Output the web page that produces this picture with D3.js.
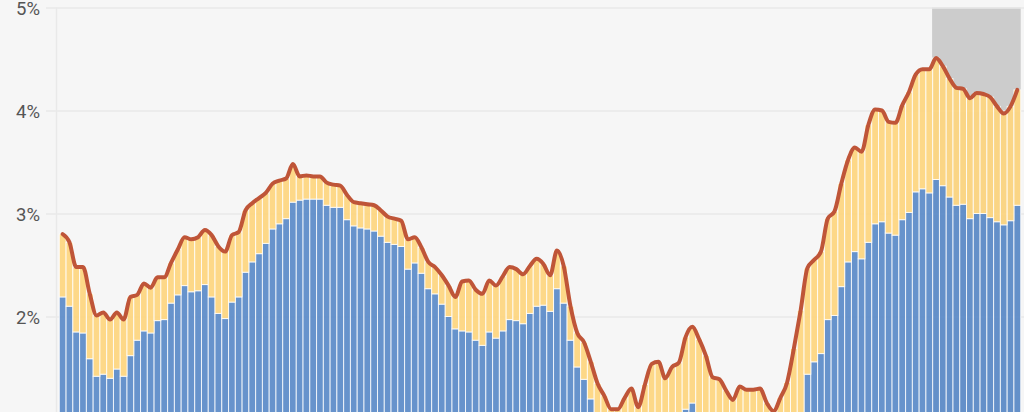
<!DOCTYPE html>
<html>
<head>
<meta charset="utf-8">
<script src="https://cdn.jsdelivr.net/npm/d3@7"></script>
<style>
  html, body { margin: 0; padding: 0; background: #f6f6f6; }
  svg { display: block; }
  .tick-label { font-family: Roboto, 'Open Sans', sans-serif; font-size: 18.5px; fill: #555555; }
</style>
</head>
<body>
<div id="chart"></div>
<script>
'use strict';

// Core contribution (blue part of each bar), in percent
var coreValues = [
  2.19, 2.10, 1.85, 1.84, 1.59, 1.42, 1.44, 1.40, 1.49, 1.42,
  1.62, 1.77, 1.86, 1.84, 1.96, 1.97, 2.13, 2.21, 2.30, 2.24,
  2.25, 2.31, 2.19, 2.03, 1.98, 2.14, 2.19, 2.43, 2.53, 2.61,
  2.71, 2.85, 2.90, 2.95, 3.11, 3.13, 3.14, 3.14, 3.14, 3.08,
  3.06, 3.06, 2.94, 2.88, 2.86, 2.85, 2.83, 2.78, 2.72, 2.70,
  2.68, 2.46, 2.52, 2.42, 2.27, 2.22, 2.12, 2.00, 1.88, 1.86,
  1.85, 1.77, 1.72, 1.85, 1.79, 1.86, 1.97, 1.96, 1.93, 2.03,
  2.10, 2.11, 2.05, 2.27, 2.13, 1.77, 1.51, 1.39, 1.20, 0.98,
  0.90, 0.82, 0.78, 0.85, 0.92, 0.85, 0.95, 0.98, 1.00, 0.96,
  1.00, 1.03, 1.10, 1.16, 1.02, 0.98, 0.92, 0.90, 0.86, 0.82,
  0.88, 0.86, 0.85, 0.88, 0.82, 0.80, 0.86, 0.95, 0.95, 1.00,
  1.44, 1.56, 1.64, 1.97, 2.01, 2.29, 2.53, 2.63, 2.56, 2.72,
  2.90, 2.92, 2.81, 2.79, 2.94, 3.01, 3.21, 3.24, 3.20, 3.33,
  3.27, 3.16, 3.08, 3.09, 2.95, 3.00, 3.00, 2.96, 2.92, 2.89,
  2.93, 3.08
];

// Headline total (top of each bar and the red line), in percent
var totalValues = [
  2.80, 2.72, 2.48, 2.48, 2.22, 2.01, 2.04, 1.97, 2.04, 1.97,
  2.19, 2.21, 2.32, 2.28, 2.38, 2.38, 2.52, 2.65, 2.77, 2.75,
  2.77, 2.84, 2.79, 2.68, 2.63, 2.79, 2.82, 3.03, 3.10, 3.15,
  3.20, 3.29, 3.32, 3.34, 3.48, 3.36, 3.37, 3.36, 3.36, 3.30,
  3.28, 3.27, 3.18, 3.11, 3.10, 3.09, 3.08, 3.03, 2.97, 2.95,
  2.93, 2.75, 2.77, 2.67, 2.53, 2.48, 2.40, 2.30, 2.19, 2.34,
  2.35, 2.26, 2.22, 2.35, 2.30, 2.39, 2.48, 2.46, 2.41, 2.49,
  2.56, 2.51, 2.40, 2.64, 2.49, 2.10, 1.84, 1.75, 1.56, 1.35,
  1.23, 1.10, 1.10, 1.21, 1.30, 1.12, 1.34, 1.54, 1.56, 1.40,
  1.51, 1.55, 1.80, 1.90, 1.78, 1.62, 1.41, 1.39, 1.28, 1.19,
  1.32, 1.29, 1.29, 1.30, 1.16, 1.08, 1.21, 1.36, 1.69, 2.06,
  2.47, 2.55, 2.63, 2.95, 3.02, 3.29, 3.52, 3.64, 3.60, 3.86,
  4.01, 4.00, 3.89, 3.88, 4.05, 4.18, 4.35, 4.40, 4.40, 4.51,
  4.43, 4.31, 4.22, 4.21, 4.12, 4.17, 4.16, 4.13, 4.04, 3.97,
  4.04, 4.20
];

// Forecast months (shaded), as bar indices
var forecastStart = 129;
var forecastEnd = 141;

var tickValues = [2, 3, 4, 5];
var tickLabels = ['2%', '3%', '4%', '5%'];

var COLORS = {
  core: '#5b8bc8',
  rest: '#fdd57f',
  line: '#bf5538',
  shade: '#cccccc',
  grid: '#e9e9e9'
};

var WIDTH = 1024;
var HEIGHT = 412;

var months = coreValues.map(function(d, i) { return i; });
var rows = months.map(function(i) {
  return { month: i, core: coreValues[i], rest: totalValues[i] - coreValues[i], total: totalValues[i] };
});

var x = d3.scaleBand()
  .domain(months)
  .range([59.3, 1020.7])
  .padding(0);

var y = d3.scaleLinear()
  .domain([0, 5])
  .range([522.5, 7.5]);

var svg = d3.select('#chart').append('svg')
  .attr('width', WIDTH)
  .attr('height', HEIGHT);

svg.append('rect')
  .attr('width', WIDTH)
  .attr('height', HEIGHT)
  .attr('fill', '#f6f6f6');

// forecast shading behind everything
svg.append('rect')
  .attr('x', x(forecastStart) - 0.6)
  .attr('y', y(5))
  .attr('width', x(forecastEnd) + x.bandwidth() - x(forecastStart) + 0.6)
  .attr('height', HEIGHT - y(5))
  .attr('fill', COLORS.shade);

// gridlines + labels
var yAxis = d3.axisLeft(y)
  .tickValues(tickValues)
  .tickSize(-(WIDTH - 46))
  .tickFormat(function(d, i) { return tickLabels[i]; });

var axisG = svg.append('g')
  .attr('transform', 'translate(46, 0)')
  .call(yAxis);

axisG.select('.domain').remove();
axisG.selectAll('.tick line')
  .attr('stroke', COLORS.grid)
  .attr('stroke-width', 1.5);
axisG.selectAll('.tick text')
  .attr('class', 'tick-label')
  .attr('x', -6)
  .attr('dy', '0.4em');

svg.append('line')
  .attr('x1', 56.5)
  .attr('x2', 56.5)
  .attr('y1', y(5))
  .attr('y2', HEIGHT)
  .attr('stroke', COLORS.grid)
  .attr('stroke-width', 1.5);

// stacked bars
var stack = d3.stack().keys(['core', 'rest']);
var series = stack(rows);

svg.append('g')
  .selectAll('g')
  .data(series)
  .enter()
  .append('g')
  .attr('fill', function(d) { return COLORS[d.key]; })
  .attr('fill-opacity', 0.93)
  .selectAll('rect')
  .data(function(d) { return d; })
  .enter()
  .append('rect')
  .attr('x', function(d) { return x(d.data.month); })
  .attr('y', function(d) { return y(d[1]); })
  .attr('width', x.bandwidth())
  .attr('height', function(d) { return y(d[0]) - y(d[1]); })
  .attr('stroke', '#ffffff')
  .attr('stroke-opacity', 0.8)
  .attr('stroke-width', 1);

// headline line
var line = d3.line()
  .x(function(d) { return x(d.month) + x.bandwidth() / 2; })
  .y(function(d) { return y(d.total); })
  .curve(d3.curveMonotoneX);

svg.append('path')
  .datum(rows)
  .attr('d', line)
  .attr('fill', 'none')
  .attr('stroke', COLORS.line)
  .attr('stroke-width', 4)
  .attr('stroke-linejoin', 'round')
  .attr('stroke-linecap', 'round');
</script>
</body>
</html>
